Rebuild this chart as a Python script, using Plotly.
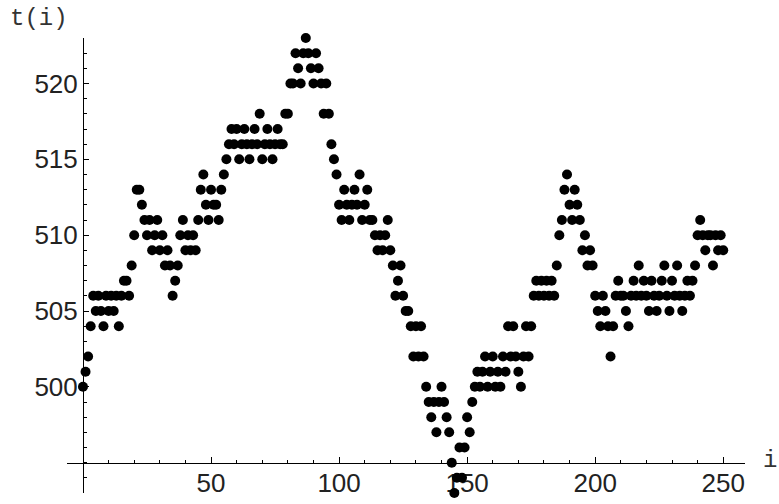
import plotly.graph_objects as go

# step index i and value t(i)
i_vals = list(range(0, 251))
t_vals = [
    500, 501, 502, 504, 506, 505, 506, 505, 504, 506,   # 0-9
    505, 506, 505, 506, 504, 506, 507, 507, 506, 508,   # 10-19
    510, 513, 513, 512, 511, 510, 511, 509, 510, 511,   # 20-29
    509, 510, 508, 509, 508, 506, 507, 508, 510, 511,   # 30-39
    509, 510, 509, 510, 509, 511, 513, 514, 512, 511,   # 40-49
    513, 512, 512, 511, 513, 514, 515, 516, 517, 516,   # 50-59
    517, 515, 516, 517, 516, 515, 516, 517, 516, 518,   # 60-69
    515, 516, 517, 516, 515, 516, 517, 516, 516, 518,   # 70-79
    518, 520, 520, 522, 521, 520, 522, 523, 522, 521,   # 80-89
    520, 522, 521, 520, 518, 520, 518, 516, 515, 514,   # 90-99
    512, 511, 513, 512, 511, 512, 513, 512, 514, 511,   # 100-109
    512, 513, 511, 511, 510, 509, 510, 509, 510, 511,   # 110-119
    509, 508, 506, 507, 508, 506, 505, 505, 504, 502,   # 120-129
    504, 502, 504, 502, 500, 499, 498, 499, 497, 499,   # 130-139
    500, 499, 498, 497, 495, 493, 494, 496, 494, 496,   # 140-149
    498, 497, 499, 500, 501, 500, 501, 502, 500, 501,   # 150-159
    502, 500, 501, 500, 502, 501, 504, 502, 504, 502,   # 160-169
    501, 500, 502, 504, 502, 504, 506, 507, 506, 507,   # 170-179
    506, 507, 506, 507, 506, 508, 510, 511, 513, 514,   # 180-189
    512, 511, 513, 512, 511, 509, 510, 508, 509, 508,   # 190-199
    506, 505, 504, 506, 505, 504, 502, 504, 506, 507,   # 200-209
    506, 506, 505, 504, 506, 507, 506, 508, 506, 507,   # 210-219
    506, 505, 507, 506, 505, 506, 507, 508, 506, 505,   # 220-229
    507, 506, 508, 506, 505, 506, 507, 506, 507, 508,   # 230-239
    510, 511, 510, 509, 510, 510, 508, 510, 509, 510,   # 240-249
    509,                                                # 250
]

x_major = [50, 100, 150, 200, 250]
x_minor = [10, 20, 30, 40, 60, 70, 80, 90, 110, 120, 130, 140,
           160, 170, 180, 190, 210, 220, 230, 240]
y_major = [500, 505, 510, 515, 520]
y_minor = [494, 495, 496, 497, 498, 499, 501, 502, 503, 504, 506, 507, 508, 509,
           511, 512, 513, 514, 516, 517, 518, 519, 521, 522]

x_range = [-6.24, 258.5]
y_range = [493, 523]
x_cross = 0      # where the vertical axis sits
y_cross = 495    # where the horizontal axis sits

tick_font = dict(family="Liberation Sans Narrow, Liberation Sans, Arial", size=26, color="#222222")
mono_font = dict(family="Liberation Mono, Courier New, monospace", size=24, color="#333333")

fig = go.Figure()
fig.add_trace(go.Scatter(
    x=i_vals, y=t_vals, mode="markers",
    marker=dict(size=10, color="black", line=dict(width=0)),
    cliponaxis=False, showlegend=False, hoverinfo="skip",
))

fig.update_layout(
    template="none",
    width=779, height=504,
    margin=dict(l=67, r=34, t=38, b=11, autoexpand=False),
    paper_bgcolor="white", plot_bgcolor="white",
    xaxis=dict(
        range=x_range, anchor="free", automargin=False,
        position=(y_cross - y_range[0]) / (y_range[1] - y_range[0]),
        showline=True, linecolor="black", linewidth=1,
        showgrid=False, zeroline=False,
        tickmode="array", tickvals=x_major, ticktext=[str(v) for v in x_major],
        ticks="inside", ticklen=6, tickwidth=1, tickcolor="black",
        tickfont=tick_font, ticklabelstandoff=-3,
        minor=dict(tickmode="array", tickvals=x_minor, ticks="inside",
                   ticklen=3, tickwidth=1, tickcolor="black", showgrid=False),
        layer="below traces",
    ),
    yaxis=dict(
        range=y_range, anchor="free", automargin=False,
        position=(x_cross - x_range[0]) / (x_range[1] - x_range[0]),
        showline=True, linecolor="black", linewidth=1,
        showgrid=False, zeroline=False,
        tickmode="array", tickvals=y_major, ticktext=[str(v) for v in y_major],
        ticks="inside", ticklen=5, tickwidth=1, tickcolor="black",
        tickfont=tick_font, ticklabelstandoff=0,
        minor=dict(tickmode="array", tickvals=y_minor, ticks="inside",
                   ticklen=3, tickwidth=1, tickcolor="black", showgrid=False),
        layer="below traces",
    ),
    annotations=[
        dict(text="t(i)", xref="paper", yref="paper", x=0, y=1,
             xanchor="center", yanchor="bottom", xshift=-28, yshift=4,
             showarrow=False, font=mono_font),
        dict(text="i", xref="paper", yref="y", x=1, y=y_cross,
             xanchor="left", yanchor="middle", xshift=16, yshift=2,
             showarrow=False, font=mono_font),
    ],
)

fig.write_html(
    "out.html",
    config={"displayModeBar": False, "staticPlot": True},
    post_script="document.body.style.margin='0';document.body.style.overflow='hidden';",
)
